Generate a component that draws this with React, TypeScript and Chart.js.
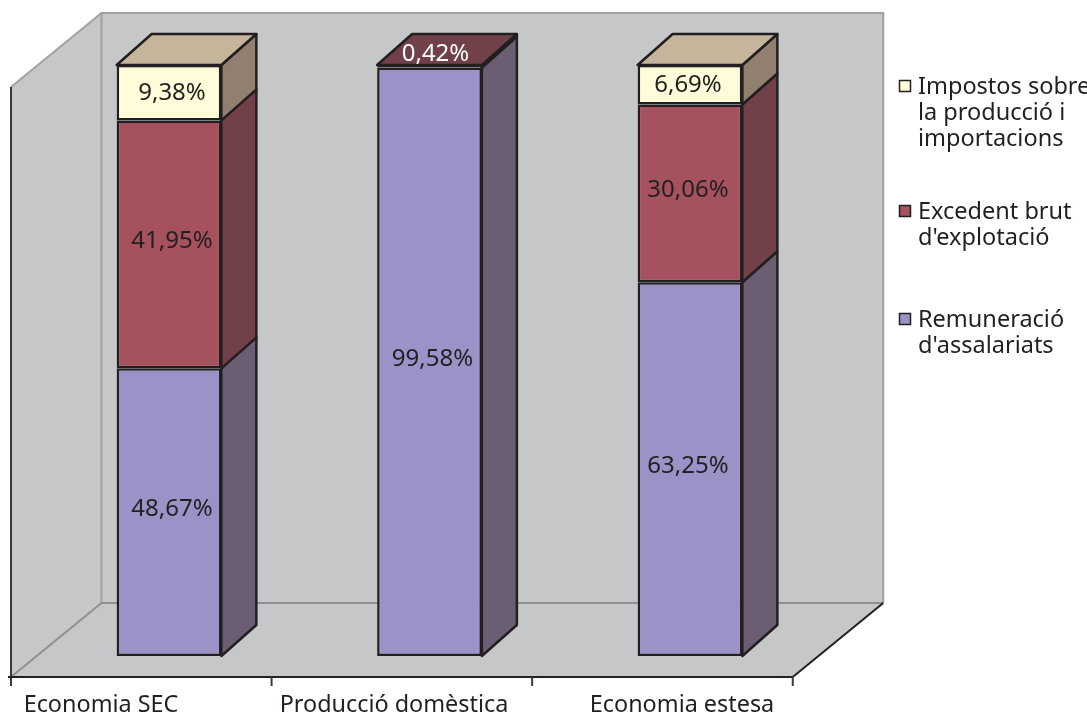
import React, { useEffect, useRef } from "react";
import { Chart, registerables } from "chart.js";

Chart.register(...registerables);

const categories = ["Economia SEC", "Producció domèstica", "Economia estesa"];
const remuneracio = [48.67, 99.58, 63.25];
const excedent = [41.95, 0.42, 30.06];
const impostos = [9.38, 0, 6.69];

const seriesNames = ["Remuneració d'assalariats", "Excedent brut d'explotació", "Impostos sobre la producció i importacions"];
const legendLines = [
  ["Impostos sobre", "la producció i", "importacions"],
  ["Excedent brut", "d'explotació"],
  ["Remuneració", "d'assalariats"],
];

const FONT = '"Noto Sans"';
const INK = "#231f20";
const FRONT = ["#9b93c8", "#a5515e", "#fffcd9"];
const SIDE = ["#6b5e72", "#714049", "#917f6f"];
const TOP = ["#9b93c8", "#714049", "#c5b59b"];
const labelCenters = [101, 394, 682];
const legendSpots = [87, 212, 320];
const valueNudge = [3, 3, -2];

function poly(ctx: CanvasRenderingContext2D, pts: number[][], fill?: string, stroke?: string, lw = 2.5) {
  ctx.beginPath();
  pts.forEach((p, i) => (i ? ctx.lineTo(p[0], p[1]) : ctx.moveTo(p[0], p[1])));
  ctx.closePath();
  if (fill) {
    ctx.fillStyle = fill;
    ctx.fill();
  }
  if (stroke) {
    ctx.strokeStyle = stroke;
    ctx.lineWidth = lw;
    ctx.lineJoin = "round";
    ctx.stroke();
  }
}

function line(ctx: CanvasRenderingContext2D, a: number[], b: number[], color: string, lw = 2) {
  ctx.beginPath();
  ctx.moveTo(a[0], a[1]);
  ctx.lineTo(b[0], b[1]);
  ctx.strokeStyle = color;
  ctx.lineWidth = lw;
  ctx.stroke();
}

const box3d = {
  id: "box3d",
  beforeDatasetsDraw(chart: any) {
    const ctx: CanvasRenderingContext2D = chart.ctx;
    const { left, right, top, bottom } = chart.chartArea;
    const fl = left - 27.75;
    const fr = right - 27.5;
    const ft = top + 22;
    const fb = bottom + 21;
    const wx = 90.5;
    const wy = -74;
    const wall = "#c6c7c9";
    const edge = "#a0a1a3";
    ctx.save();
    poly(ctx, [[fl, ft], [fl + wx, ft + wy], [fl + wx, fb + wy], [fl, fb]], wall);
    poly(ctx, [[fl + wx, ft + wy], [fr + wx, ft + wy], [fr + wx, fb + wy], [fl + wx, fb + wy]], wall);
    poly(ctx, [[fl, fb], [fl + wx, fb + wy], [fr + wx, fb + wy], [fr, fb]], wall);
    line(ctx, [fl, ft], [fl + wx, ft + wy], edge);
    line(ctx, [fl + wx - 1, ft + wy], [fr + wx + 1, ft + wy], edge);
    line(ctx, [fl + wx, ft + wy], [fl + wx, fb + wy], edge);
    line(ctx, [fr + wx, ft + wy], [fr + wx, fb + wy], edge);
    line(ctx, [fl, fb], [fl + wx, fb + wy], "#8f9092");
    line(ctx, [fl + wx, fb + wy], [fr + wx, fb + wy], "#8f9092");
    line(ctx, [fr, fb], [fr + wx, fb + wy], INK);
    line(ctx, [fl, ft], [fl, fb + 9], "#3a3839");
    line(ctx, [fl - 3, fb], [fr, fb], INK);
    for (let i = 1; i <= categories.length; i++) {
      const x = fl + ((fr - fl) * i) / categories.length;
      line(ctx, [x, fb], [x, fb + 9], "#3a3839");
    }
    const dx = 35;
    const dy = -31;
    categories.forEach((_, c) => {
      let topIdx = -1;
      [remuneracio, excedent, impostos].forEach((vals, s) => {
        if (!vals[c]) return;
        const el = chart.getDatasetMeta(s).data[c];
        const xr = el.x + el.width / 2;
        poly(ctx, [[xr, el.y], [xr + dx, el.y + dy], [xr + dx, el.base + dy], [xr, el.base]], SIDE[s], INK);
        topIdx = s;
      });
      const el = chart.getDatasetMeta(topIdx).data[c];
      const xl = el.x - el.width / 2;
      const xr = el.x + el.width / 2;
      poly(ctx, [[xl, el.y], [xl + dx, el.y + dy], [xr + dx, el.y + dy], [xr, el.y]], TOP[topIdx], INK);
    });
    ctx.restore();
  },
  afterDatasetsDraw(chart: any) {
    const ctx: CanvasRenderingContext2D = chart.ctx;
    const { bottom } = chart.chartArea;
    ctx.save();
    ctx.textBaseline = "middle";
    ctx.font = `24px ${FONT}`;
    ctx.textAlign = "center";
    [remuneracio, excedent, impostos].forEach((vals, s) => {
      vals.forEach((v, c) => {
        if (!v) return;
        const el = chart.getDatasetMeta(s).data[c];
        const small = v < 1;
        const up = s === 2 ? 0 : 3;
        const y = small ? el.y - 11 : (el.y + el.base) / 2 - up;
        ctx.fillStyle = small ? "#ffffff" : INK;
        ctx.fillText(`${v.toFixed(2).replace(".", ",")}%`, el.x + valueNudge[c] + (small ? 3 : 0), y);
      });
    });
    ctx.font = `23.4px ${FONT}`;
    categories.forEach((label, i) => {
      ctx.fillStyle = INK;
      ctx.fillText(label, labelCenters[i], bottom + 49.5);
    });
    ctx.textAlign = "left";
    ctx.font = `23.5px ${FONT}`;
    legendLines.forEach((lines, i) => {
      const y0 = legendSpots[i];
      const s = FRONT.length - 1 - i;
      ctx.fillStyle = FRONT[s];
      ctx.strokeStyle = INK;
      ctx.lineWidth = 1.5;
      ctx.fillRect(899.5, y0 - 6.5, 11, 11);
      ctx.strokeRect(899.5, y0 - 6.5, 11, 11);
      ctx.fillStyle = INK;
      lines.forEach((t, k) => ctx.fillText(t, 918, y0 + k * 26));
    });
    ctx.restore();
  },
};

export default function App() {
  const ref = useRef<HTMLCanvasElement>(null);
  useEffect(() => {
    const mk = (i: number, data: number[]) => ({
      label: seriesNames[i],
      data,
      backgroundColor: FRONT[i],
      borderColor: INK,
      borderWidth: 2.5,
      borderSkipped: false,
      clip: false,
    });
    const chart = new Chart(ref.current!, {
      type: "bar",
      data: {
        labels: categories,
        datasets: [mk(0, remuneracio), mk(1, excedent), mk(2, impostos)] as any,
      },
      plugins: [box3d],
      options: {
        animation: false,
        responsive: false,
        devicePixelRatio: 1,
        layout: { padding: { left: 38.75, right: 266.75, top: 65, bottom: 59 } },
        datasets: { bar: { barPercentage: 0.402, categoryPercentage: 1 } },
        plugins: { legend: { display: false }, tooltip: { enabled: false } },
        scales: {
          x: { stacked: true, display: false },
          y: { stacked: true, display: false, min: 0, max: 100 },
        },
      } as any,
    });
    return () => chart.destroy();
  }, []);
  return (
    <div style={{ position: "fixed", left: 0, top: 0, width: 1087, height: 715, background: "#fff" }}>
      <canvas ref={ref} width={1087} height={715} style={{ display: "block" }} />
    </div>
  );
}
